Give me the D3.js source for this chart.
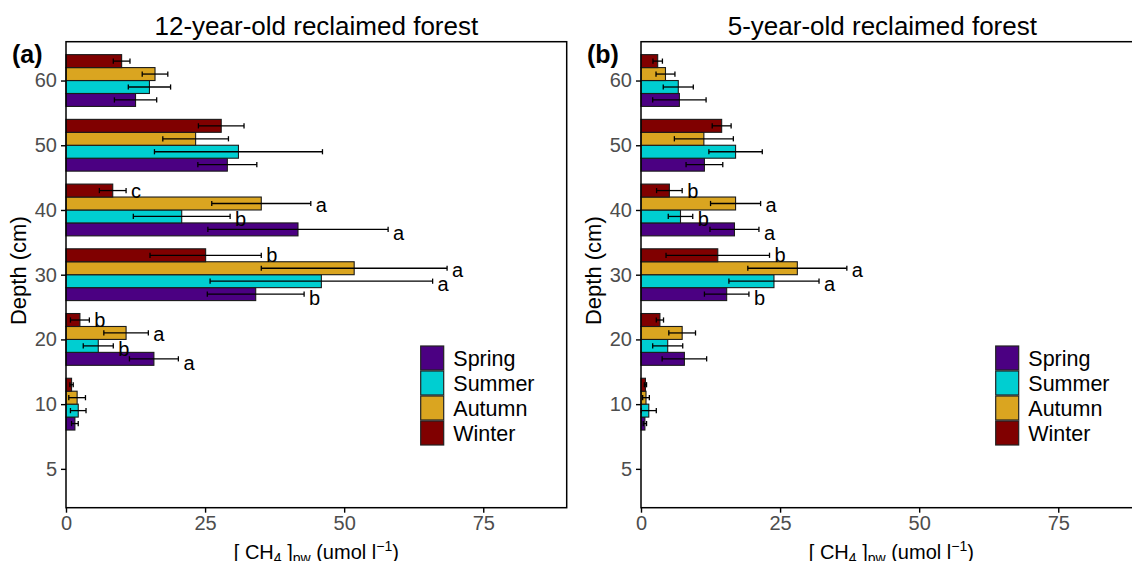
<!DOCTYPE html>
<html>
<head>
<meta charset="utf-8">
<script src="https://cdn.jsdelivr.net/npm/d3@7/dist/d3.min.js"></script>
<style>
  body { margin: 0; background: #fff; }
  svg { display: block; font-family: "Liberation Sans", Arial, sans-serif; }
</style>
</head>
<body>
<div class="basicBarChart"></div>
<script>
// depth groups (bottom to top) and seasons
const depths = ["5", "10", "20", "30", "40", "50", "60"];
const seasons = ["Spring", "Summer", "Autumn", "Winter"];
const seasonColors = ["#4B0082", "#00CED1", "#DAA520", "#800000"];
const xTicks = [0, 25, 50, 75];

// 12-year-old forest: means, standard errors, letters (by depth)
const springA = [null, 1.6, 15.8, 34.1, 41.7, 29.0, 12.5];
const summerA = [null, 2.2, 5.8, 45.9, 20.8, 31.0, 15.0];
const autumnA = [null, 2.0, 10.8, 51.8, 35.1, 23.3, 16.0];
const winterA = [null, 1.0, 2.5, 25.1, 8.4, 27.9, 10.0];
const springSeA = [null, 0.6, 4.4, 8.7, 16.2, 5.3, 3.8];
const summerSeA = [null, 1.4, 2.7, 20.0, 8.7, 15.1, 3.8];
const autumnSeA = [null, 1.5, 4.0, 16.7, 8.9, 5.9, 2.3];
const winterSeA = [null, 0.3, 1.7, 10.0, 2.4, 4.1, 1.5];
const springLetA = ["", "", "a", "b", "a", "", ""];
const summerLetA = ["", "", "b", "a", "b", "", ""];
const autumnLetA = ["", "", "a", "a", "a", "", ""];
const winterLetA = ["", "", "b", "b", "c", "", ""];

// 5-year-old forest
const springB = [null, 0.7, 7.8, 15.4, 16.8, 11.4, 6.9];
const summerB = [null, 1.4, 4.8, 23.9, 7.1, 17.0, 6.7];
const autumnB = [null, 0.9, 7.4, 28.1, 17.0, 11.3, 4.4];
const winterB = [null, 0.8, 3.4, 13.8, 5.1, 14.5, 3.0];
const springSeB = [null, 0.3, 4.0, 4.0, 4.4, 3.3, 4.8];
const summerSeB = [null, 1.35, 2.7, 8.1, 2.2, 4.8, 2.7];
const autumnSeB = [null, 0.6, 2.4, 8.9, 4.5, 5.3, 1.7];
const winterSeB = [null, 0.2, 0.65, 9.3, 2.3, 1.7, 0.85];
const springLetB = ["", "", "", "b", "a", "", ""];
const summerLetB = ["", "", "", "a", "b", "", ""];
const autumnLetB = ["", "", "", "a", "a", "", ""];
const winterLetB = ["", "", "", "b", "b", "", ""];

// build long rows from the arrays above
const toRows = (means, ses, letters) => {
  const rows = [];
  seasons.forEach((s, i) => {
    depths.forEach((d, j) => {
      if (means[i][j] == null) return;
      rows.push({ season: s, depth: d, value: means[i][j], se: ses[i][j], letter: letters[i][j] });
    });
  });
  return rows;
};

const panels = [
  {
    tag: "(a)", title: "12-year-old reclaimed forest", left: 66, titleShift: 0,
    data: toRows([springA, summerA, autumnA, winterA], [springSeA, summerSeA, autumnSeA, winterSeA],
      [springLetA, summerLetA, autumnLetA, winterLetA]),
  },
  {
    tag: "(b)", title: "5-year-old reclaimed forest", left: 641, titleShift: -9,
    data: toRows([springB, summerB, autumnB, winterB], [springSeB, summerSeB, autumnSeB, winterSeB],
      [springLetB, summerLetB, autumnLetB, winterLetB]),
  },
];

const panelTop = 41.7, width = 500.7, height = 466;

const svg = d3.select(".basicBarChart").append("svg")
  .attr("width", 1132).attr("height", 561);

/* -1- scales shared by both panels */
const x = d3.scaleLinear().domain([0, 90]).range([0, width]);
const y = d3.scalePoint().domain(depths).range([height, 0]).padding(0.6);
const step = y.step();
const inner = d3.scaleBand().domain(["Winter", "Autumn", "Summer", "Spring"]).range([-0.4 * step, 0.4 * step]);
const color = d3.scaleOrdinal().domain(seasons).range(seasonColors);

/* -2- draw one panel */
const drawPanel = (p) => {
  const g = svg.append("g").attr("transform", `translate(${p.left},${panelTop})`);

  // y axis
  const yAx = g.append("g").call(d3.axisLeft(y).tickSize(5).tickPadding(4));
  yAx.select(".domain").remove();
  yAx.selectAll("line").attr("stroke", "#000").attr("stroke-width", 1.4);
  yAx.selectAll("text").attr("font-size", 20).attr("fill", "#4d4d4d").attr("font-family", "Liberation Sans, Arial, sans-serif");

  // x axis
  const xAx = g.append("g").attr("transform", `translate(0,${height})`)
    .call(d3.axisBottom(x).tickValues(xTicks).tickSize(5).tickPadding(3));
  xAx.select(".domain").remove();
  xAx.selectAll("line").attr("stroke", "#000").attr("stroke-width", 1.4);
  xAx.selectAll("text").attr("font-size", 20).attr("fill", "#4d4d4d").attr("font-family", "Liberation Sans, Arial, sans-serif");

  // bars
  g.selectAll(".bar").data(p.data).enter().append("rect")
    .attr("class", "bar")
    .attr("x", x(0))
    .attr("y", (d) => y(d.depth) + inner(d.season))
    .attr("width", (d) => x(d.value) - x(0))
    .attr("height", inner.bandwidth())
    .attr("fill", (d) => color(d.season))
    .attr("stroke", "#1a1a1a").attr("stroke-width", 1.1);

  // error bars
  const eb = g.selectAll(".err").data(p.data).enter().append("g").attr("class", "err")
    .attr("stroke", "#000").attr("stroke-width", 1.3);
  const cy = (d) => y(d.depth) + inner(d.season) + inner.bandwidth() / 2;
  eb.append("line")
    .attr("x1", (d) => x(Math.max(0, d.value - d.se))).attr("x2", (d) => x(d.value + d.se))
    .attr("y1", cy).attr("y2", cy);
  eb.append("line")
    .attr("x1", (d) => x(Math.max(0, d.value - d.se))).attr("x2", (d) => x(Math.max(0, d.value - d.se)))
    .attr("y1", (d) => cy(d) - 2.6).attr("y2", (d) => cy(d) + 2.6);
  eb.append("line")
    .attr("x1", (d) => x(d.value + d.se)).attr("x2", (d) => x(d.value + d.se))
    .attr("y1", (d) => cy(d) - 2.6).attr("y2", (d) => cy(d) + 2.6);

  // significance letters
  g.selectAll(".let").data(p.data.filter((d) => d.letter)).enter().append("text")
    .attr("class", "let")
    .attr("x", (d) => x(d.value + d.se) + 5)
    .attr("y", (d) => y(d.depth) + (inner(d.season) + inner.bandwidth() / 2) * 1.1 + 9)
    .attr("font-size", 20).attr("fill", "#000")
    .text((d) => d.letter);

  // panel border
  g.append("rect").attr("width", width).attr("height", height)
    .attr("fill", "none").attr("stroke", "#000").attr("stroke-width", 1.5);

  // legend
  const lg = g.append("g").attr("transform", `translate(${354.7},${304.3})`);
  seasons.forEach((s, i) => {
    lg.append("rect").attr("x", 0).attr("y", i * 25).attr("width", 23).attr("height", 24)
      .attr("fill", color(s)).attr("stroke", "#222").attr("stroke-width", 1.2);
    lg.append("text").attr("x", 32.6).attr("y", i * 25 + 12).attr("dy", "0.36em")
      .attr("font-size", 21.5).attr("fill", "#000").text(s);
  });

  // titles and labels
  g.append("text").attr("x", width / 2 + p.titleShift).attr("y", -6.7)
    .attr("text-anchor", "middle").attr("font-size", 26).attr("fill", "#000").text(p.title);
  g.append("text").attr("x", -54).attr("y", 21.5)
    .attr("font-size", 25).attr("font-weight", "bold").attr("fill", "#000").text(p.tag);
  g.append("text").attr("transform", `translate(${-40},${height / 2 - 4}) rotate(-90)`)
    .attr("text-anchor", "middle").attr("font-size", 22).attr("fill", "#000").text("Depth (cm)");

  const xl = g.append("text").attr("x", width / 2).attr("y", height + 51)
    .attr("text-anchor", "middle").attr("font-size", 20).attr("fill", "#000");
  xl.append("tspan").text("[ CH");
  xl.append("tspan").attr("dy", 4).attr("font-size", 14).text("4");
  xl.append("tspan").attr("dy", -4).text(" ]");
  xl.append("tspan").attr("dy", 4).attr("font-size", 14).text("pw");
  xl.append("tspan").attr("dy", -4).text(" (umol l");
  xl.append("tspan").attr("dy", -8).attr("font-size", 14).text("\u22121");
  xl.append("tspan").attr("dy", 8).text(")");
};

panels.forEach(drawPanel);
</script>
</body>
</html>
